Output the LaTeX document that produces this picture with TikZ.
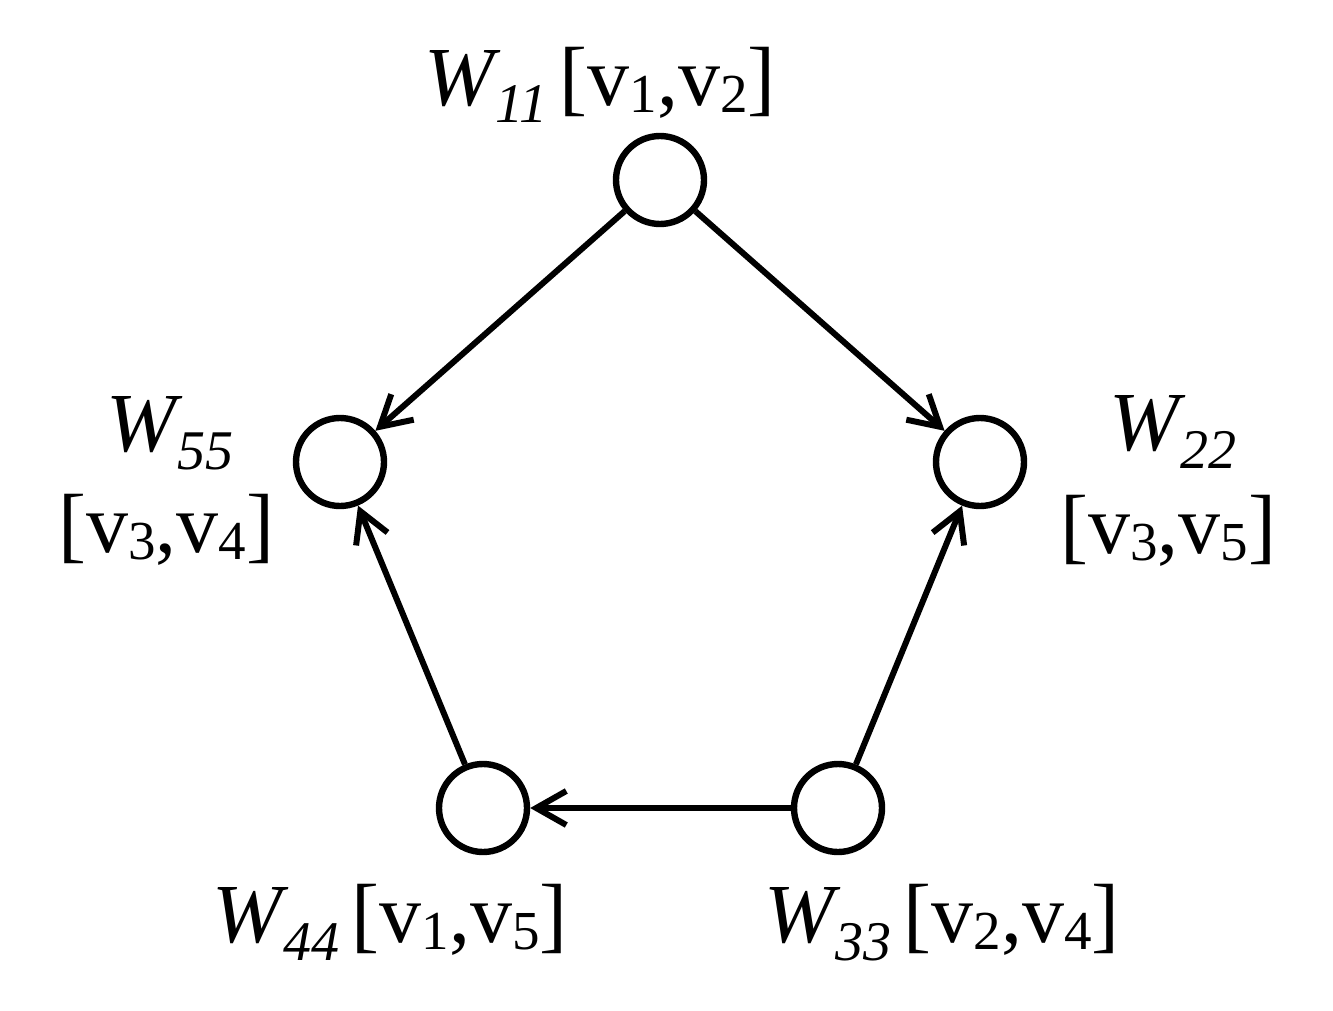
\documentclass[tikz,border=0pt]{standalone}
\usepackage{fontspec}
\setmainfont{Liberation Serif}
\usetikzlibrary{arrows.meta}
\newcommand\Wsym[1]{\textit{W}\kern-2.5pt\raisebox{-9pt}{\fontsize{28}{30}\selectfont\itshape #1}}
\newcommand\vsb[1]{v\raisebox{-3.5pt}{\fontsize{27.5}{30}\selectfont #1}}
\newcommand\vpair[2]{[\vsb{#1},\vsb{#2}]}
\tikzset{
  vert/.style={circle, draw, line width=3.2pt, minimum size=44pt, inner sep=0pt},
  lab/.style={inner sep=0pt, anchor=base west, font=\fontsize{42}{48}\selectfont},
  arr/.style={line width=3pt, -{Straight Barb[length=15pt, width=17pt, line width=3pt]}}
}
\begin{document}
\begin{tikzpicture}[x=0.5pt, y=-0.5pt]
\useasboundingbox (0,0) rectangle (1333,1011);
\node[vert] (n1) at (660,180) {};
\node[vert] (n2) at (980,462) {};
\node[vert] (n3) at (838,808) {};
\node[vert] (n4) at (483,808) {};
\node[vert] (n5) at (340,462) {};
\draw[arr] (n1) -- (n5);
\draw[arr] (n1) -- (n2);
\draw[arr] (n3) -- (n2);
\draw[arr] (n3) -- (n4);
\draw[arr] (n4) -- (n5);
\node[lab] (l1) at (424,105) {\Wsym{11}\hspace{6pt}\vpair12};
\node[lab] (l5a) at (106,451) {\Wsym{55}};
\node[lab] (l5b) at (58,552) {\vpair34};
\node[lab] (l2a) at (1109,450) {\Wsym{22}};
\node[lab] (l2b) at (1060,553) {\vpair35};
\node[lab] (l4) at (212,942) {\Wsym{44}\hspace{6pt}\vpair15};
\node[lab] (l3) at (764,942) {\Wsym{33}\hspace{6pt}\vpair24};
\end{tikzpicture}
\end{document}
